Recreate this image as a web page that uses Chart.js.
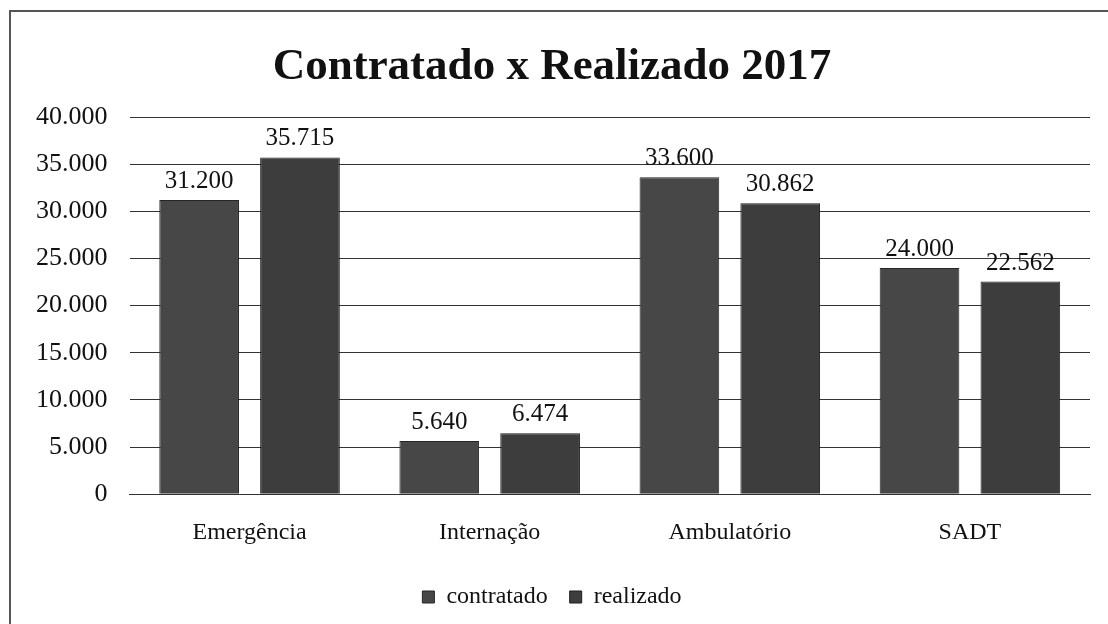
<!DOCTYPE html>
<html>
<head>
<meta charset="utf-8">
<script src="https://cdn.jsdelivr.net/npm/chart.js@4"></script>
<style>
  html, body { margin: 0; padding: 0; background: #fff; }
  #wrap { position: relative; width: 1108px; height: 624px; }
  #frame { position: absolute; left: 9px; top: 10px; right: 0; bottom: 0;
           border-left: 2px solid #555; border-top: 2px solid #555; }
  canvas { position: absolute; left: 0; top: 0; }
</style>
</head>
<body>
<div id="wrap">
  <div id="frame"></div>
  <canvas id="chart" width="1108" height="624"></canvas>
</div>
<script>
// dados
const categorias = ["Emergência", "Internação", "Ambulatório", "SADT"];
const contratado = [31200, 5640, 33600, 24000];
const realizado = [35715, 6474, 30862, 22562];

const serif = "'Liberation Serif', 'DejaVu Serif', serif";

function fmt(v) {
    return String(v).replace(/\B(?=(\d{3})+(?!\d))/g, ".");
}

// rótulos acima das barras
const rotulos = {
    id: "rotulos",
    afterDatasetsDraw(chart) {
        const ctx = chart.ctx;
        ctx.save();
        ctx.font = "25px " + serif;
        ctx.fillStyle = "#111";
        ctx.textAlign = "center";
        ctx.textBaseline = "bottom";
        chart.data.datasets.forEach((ds, i) => {
            chart.getDatasetMeta(i).data.forEach((bar, j) => {
                ctx.fillText(fmt(ds.data[j]), bar.x, bar.y - 6);
            });
        });
        ctx.restore();
    }
};

new Chart(document.getElementById("chart"), {
    type: "bar",
    data: {
        labels: categorias,
        datasets: [
            { label: "contratado", data: contratado, backgroundColor: "#474747", borderColor: "#262626", borderWidth: 1 },
            { label: "realizado", data: realizado, backgroundColor: "#3d3d3d", borderColor: "#1e1e1e", borderWidth: 1 }
        ]
    },
    options: {
        responsive: false,
        animation: false,
        datasets: { bar: { categoryPercentage: 0.84, barPercentage: 0.79 } },
        layout: { padding: { left: 14, right: 18, top: 0, bottom: 5 } },
        plugins: {
            title: {
                display: true,
                text: "Contratado x Realizado 2017",
                color: "#111",
                font: { family: serif, size: 45, weight: "bold" },
                padding: { top: 40, bottom: 23 }
            },
            legend: {
                position: "bottom",
                labels: {
                    color: "#111",
                    font: { family: serif, size: 24 },
                    boxWidth: 12, boxHeight: 12,
                    padding: 22
                }
            },
            tooltip: { enabled: false }
        },
        scales: {
            x: {
                grid: { display: false },
                border: { display: true, color: "#333" },
                ticks: { color: "#111", font: { family: serif, size: 24 }, padding: 16 }
            },
            y: {
                min: 0, max: 40000,
                grid: { color: "#333", drawTicks: false },
                border: { display: false },
                ticks: {
                    stepSize: 5000,
                    color: "#111",
                    font: { family: serif, size: 26 },
                    padding: 22,
                    callback: v => fmt(v)
                }
            }
        }
    },
    plugins: [rotulos]
});
</script>
</body>
</html>
